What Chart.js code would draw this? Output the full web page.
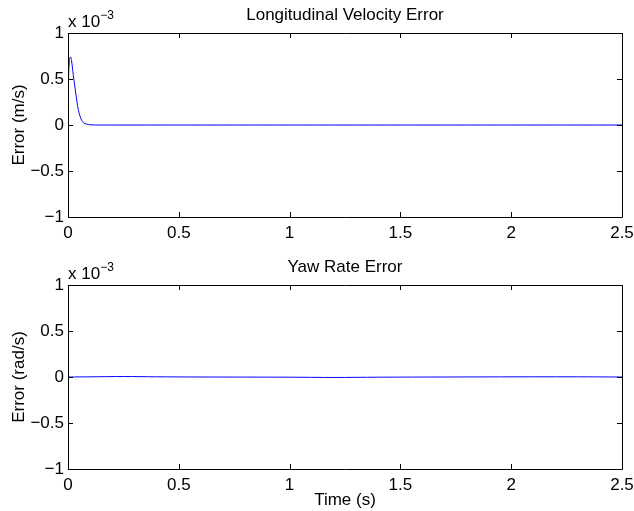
<!DOCTYPE html>
<html>
<head>
<meta charset="utf-8">
<script src="https://cdn.jsdelivr.net/npm/chart.js@4"></script>
<style>
  body { margin: 0; background: #fff; }
  .box { position: absolute; left: 0; width: 634px; }
</style>
</head>
<body>
<div class="box" style="top:0;height:252px"><canvas id="velChart"></canvas></div>
<div class="box" style="top:252px;height:259px"><canvas id="yawChart"></canvas></div>
<script>
// values are in units of 1e-3
var velTime  = [0, 0.003, 0.006, 0.011, 0.016, 0.022, 0.024, 0.032, 0.04, 0.047, 0.055, 0.062, 0.07, 0.084, 0.1, 0.15, 0.5, 1, 1.5, 2, 2.5];
var velError = [0, 0.55, 0.70, 0.74, 0.70, 0.58, 0.54, 0.40, 0.26, 0.16, 0.09, 0.05, 0.025, 0.01, 0.002, 0, 0, 0, 0, 0, 0];

var yawTime  = [0, 0.1, 0.25, 0.4, 0.6, 1.0, 1.2, 1.4, 1.7, 2.1, 2.3, 2.5];
var yawError = [0, 0.002, 0.005, 0.002, 0, -0.002, -0.005, -0.002, 0, 0.002, 0.002, 0];

var xTicks = [0, 0.5, 1, 1.5, 2, 2.5];
var yTicks = [-1, -0.5, 0, 0.5, 1];

var FONT = "'Liberation Sans', Arial, Helvetica, sans-serif";

function fmt(v) {
  return String(v).replace('-', '\u2212');
}

// matlab style box, inward ticks, axes title and the exponent label
var matlabBox = {
  id: 'matlabBox',
  afterDraw: function(chart, args, opts) {
    var ctx = chart.ctx, a = chart.chartArea;
    var xs = chart.scales.x, ys = chart.scales.y;
    ctx.save();
    ctx.strokeStyle = '#000';
    ctx.lineWidth = 1;
    ctx.beginPath();
    ctx.rect(Math.round(a.left) + 0.5, Math.round(a.top) + 0.5, Math.round(a.right - a.left), Math.round(a.bottom - a.top));
    xTicks.forEach(function(t) {
      var px = Math.round(xs.getPixelForValue(t)) + 0.5;
      ctx.moveTo(px, a.bottom); ctx.lineTo(px, a.bottom - 5);
      ctx.moveTo(px, a.top); ctx.lineTo(px, a.top + 5);
    });
    yTicks.forEach(function(t) {
      var py = Math.round(ys.getPixelForValue(t)) + 0.5;
      ctx.moveTo(a.left, py); ctx.lineTo(a.left + 5, py);
      ctx.moveTo(a.right, py); ctx.lineTo(a.right - 5, py);
    });
    ctx.stroke();
    ctx.fillStyle = '#000';
    ctx.textBaseline = 'alphabetic';
    // title, centred over the axes like matlab
    ctx.textAlign = 'center';
    ctx.font = '17px ' + FONT;
    ctx.fillText(opts.title, (a.left + a.right) / 2, 20);
    ctx.textAlign = 'left';
    ctx.fillText('x 10', a.left, a.top - 6);
    var w = ctx.measureText('x 10').width;
    ctx.font = '12px ' + FONT;
    ctx.fillText('\u22123', a.left + w, a.top - 14);
    ctx.restore();
  }
};

function makeChart(id, title, yLabel, times, vals, showX) {
  var pts = times.map(function(t, i) { return { x: t, y: vals[i] }; });
  return new Chart(document.getElementById(id), {
    type: 'line',
    data: {
      datasets: [{
        data: pts,
        borderColor: '#0000ff',
        borderWidth: 1,
        pointRadius: 0,
        tension: 0.3,
        fill: false
      }]
    },
    options: {
      responsive: true,
      maintainAspectRatio: false,
      animation: false,
      layout: { padding: { left: 0, right: 12, top: 33, bottom: 0 } },
      plugins: {
        legend: { display: false },
        tooltip: { enabled: false },
        title: { display: false },
        matlabBox: { title: title }
      },
      scales: {
        x: {
          type: 'linear',
          min: 0, max: 2.5,
          afterBuildTicks: function(s) { s.ticks = xTicks.map(function(v) { return { value: v }; }); },
          afterFit: function(s) {
            s.height = showX ? 42 : 35;
            s.paddingLeft = 0;
            s.paddingRight = 0;
          },
          grid: { display: false, drawTicks: false },
          border: { display: false },
          ticks: {
            color: '#000',
            padding: 6,
            font: { family: FONT, size: 17 },
            maxRotation: 0,
            callback: function(v) { return fmt(v); }
          },
          title: {
            display: showX,
            text: 'Time (s)',
            color: '#000',
            font: { family: FONT, size: 17 },
            padding: { top: 2, bottom: 0 }
          }
        },
        y: {
          min: -1, max: 1,
          afterBuildTicks: function(s) { s.ticks = yTicks.map(function(v) { return { value: v }; }); },
          afterFit: function(s) {
            s.width = 68;
            s.paddingTop = 0;
            s.paddingBottom = 0;
          },
          grid: { display: false, drawTicks: false },
          border: { display: false },
          ticks: {
            color: '#000',
            padding: 4,
            font: { family: FONT, size: 17 },
            callback: function(v) { return fmt(v); }
          },
          title: {
            display: true,
            text: yLabel,
            color: '#000',
            font: { family: FONT, size: 17 },
            padding: { top: 9, bottom: 0 }
          }
        }
      }
    },
    plugins: [matlabBox]
  });
}

makeChart('velChart', 'Longitudinal Velocity Error', 'Error (m/s)', velTime, velError, false);
makeChart('yawChart', 'Yaw Rate Error', 'Error (rad/s)', yawTime, yawError, true);
</script>
</body>
</html>
